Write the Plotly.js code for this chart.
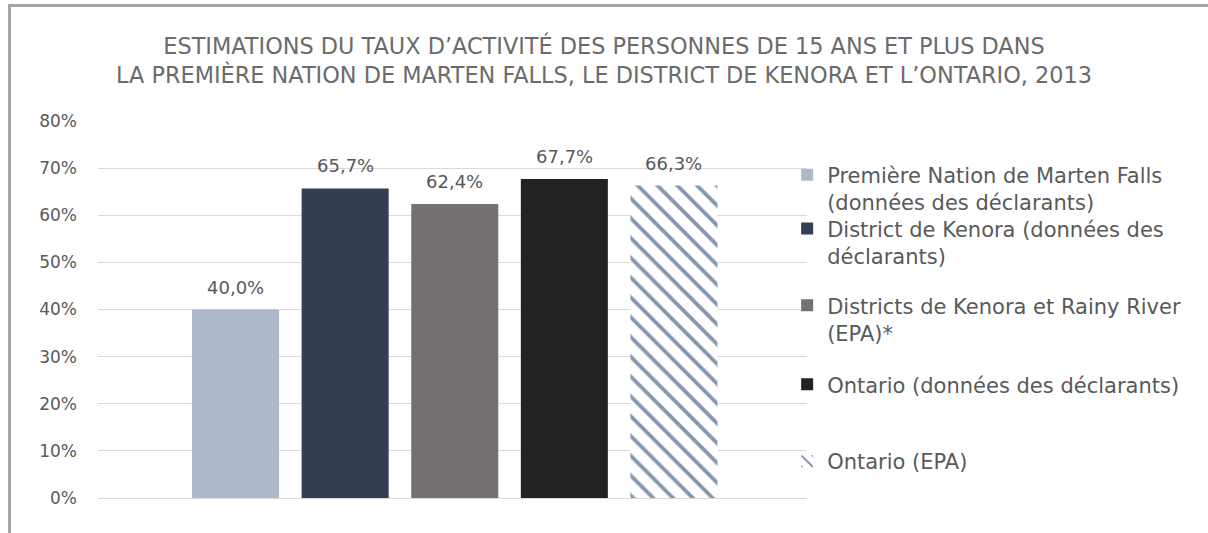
<!DOCTYPE html>
<html><head><meta charset="utf-8">
<script src="https://cdn.plot.ly/plotly-3.0.1.min.js"></script>
<style>
html,body{margin:0;padding:0;background:#fff;}
#wrap{position:relative;width:1208px;height:533px;overflow:hidden;}
#chart{position:absolute;left:0;top:0;width:1208px;height:533px;}
#frame{position:absolute;left:8px;top:4px;width:1300px;height:600px;border-left:3px solid #a6a6a6;border-top:3px solid #a6a6a6;pointer-events:none;}
</style></head>
<body><div id="wrap"><div id="chart"></div><div id="frame"></div></div>
<script>
const seriesNames = [
  "Première Nation de Marten Falls<br>(données des déclarants)",
  "District de Kenora (données des<br>déclarants)",
  "Districts de Kenora et Rainy River<br>(EPA)*",
  "Ontario (données des déclarants)",
  "Ontario (EPA)"
];
const seriesValues = [40.0, 65.7, 62.4, 67.7, 66.3];
const seriesColors = ["#adb9ca", "#333f50", "#767171", "#222222", "#ffffff"];
const seriesPositions = [0, 1, 2, 3, 4];
const yTicks = [0, 10, 20, 30, 40, 50, 60, 70, 80];
const titleText = "ESTIMATIONS DU TAUX D’ACTIVITÉ DES PERSONNES DE 15 ANS ET PLUS DANS<br>LA PREMIÈRE NATION DE MARTEN FALLS, LE DISTRICT DE KENORA ET L’ONTARIO, 2013";

const FONT = "DejaVu Sans, sans-serif";
const TXT = "#595959";
const legendNames = ["legend","legend2","legend3","legend4","legend5"];
const legendY = [0.911, 0.768, 0.5645, 0.355, 0.151];

const fmt = v => v.toFixed(1).replace(".", ",") + "%";

const traces = seriesNames.map((name, i) => {
  const t = {
    type: "bar",
    name: name,
    x: [seriesPositions[i]],
    y: [seriesValues[i]],
    marker: {color: seriesColors[i], line: {width: 0}},
    legend: legendNames[i],
    hoverinfo: "skip"
  };
  if (i === 4) {
    t.marker.pattern = {shape: "\\", fgcolor: "#8497b0", bgcolor: "#ffffff", size: 14, solidity: 0.27, fillmode: "replace"};
  }
  return t;
});

const annotations = seriesValues.map((v, i) => ({
  x: seriesPositions[i], y: v, xref: "x", yref: "y",
  text: fmt(v), showarrow: false, yanchor: "bottom", yshift: 10,
  font: {family: FONT, size: 18, color: TXT}
}));

const layout = {
  width: 1208, height: 533,
  margin: {l: 98, r: 401, t: 120.5, b: 34.7},
  paper_bgcolor: "#ffffff", plot_bgcolor: "#ffffff",
  font: {family: FONT, color: TXT, size: 16},
  title: {text: titleText, font: {family: FONT, size: 22.4, color: "#6b6b6b"}, x: 0.5, xref: "container", y: 0.8987, yref: "container", yanchor: "middle", xanchor: "center"},
  barmode: "overlay",
  bargap: 0.206,
  xaxis: {range: [-1.255, 5.214], showticklabels: false, showgrid: false, zeroline: false, showline: true, linecolor: "#d9d9d9", linewidth: 1, ticks: "", fixedrange: true},
  yaxis: {range: [0, 80], tickvals: yTicks, ticktext: yTicks.map(v => v + "%"), showgrid: true, gridcolor: "#d9d9d9", gridwidth: 1, zeroline: false, showline: false, ticks: "", ticklabelstandoff: 20, tickfont: {family: FONT, size: 17, color: TXT}, fixedrange: true},
  annotations: annotations,
  showlegend: true
};
legendNames.forEach((ln, i) => {
  layout[ln] = {x: 0.972, xanchor: "left", y: legendY[i], yanchor: "top", bgcolor: "rgba(0,0,0,0)", font: {family: FONT, size: 21, color: TXT}, valign: "top", itemwidth: 30, tracegroupgap: 0};
});

Plotly.newPlot("chart", traces, layout, {displayModeBar: false, staticPlot: true});
</script></body></html>
